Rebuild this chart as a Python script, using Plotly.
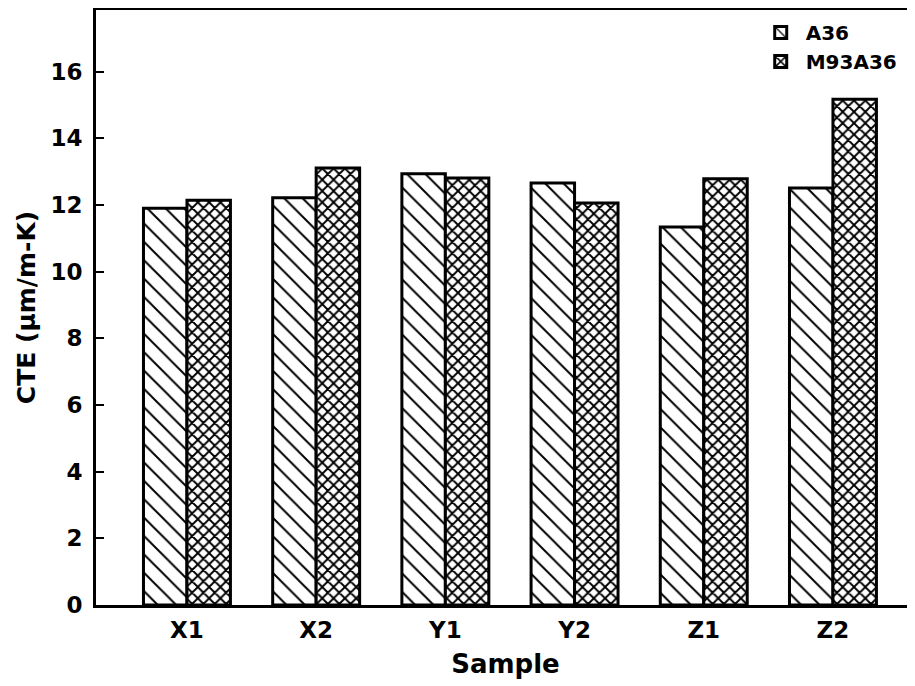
import plotly.graph_objects as go

categories = ["X1", "X2", "Y1", "Y2", "Z1", "Z2"]
a36_values = [11.90, 12.22, 12.94, 12.66, 11.34, 12.51]
m93a36_values = [12.14, 13.11, 12.81, 12.06, 12.79, 15.17]
y_tick_values = [0, 2, 4, 6, 8, 10, 12, 14, 16]

FONT = "DejaVu Sans"

fig = go.Figure()
fig.add_trace(go.Bar(
    x=categories, y=a36_values, name="A36",
    marker=dict(color="white", line=dict(color="black", width=3),
                pattern=dict(shape="\\", fgcolor="black", bgcolor="white",
                             size=13, solidity=0.15, fillmode="replace")),
))
fig.add_trace(go.Bar(
    x=categories, y=m93a36_values, name="M93A36",
    marker=dict(color="white", line=dict(color="black", width=3),
                pattern=dict(shape="x", fgcolor="black", bgcolor="white",
                             size=8, solidity=0.42, fillmode="replace")),
))

fig.update_layout(
    width=907, height=678,
    margin=dict(l=88, r=0, t=2, b=81, autoexpand=False),
    paper_bgcolor="white", plot_bgcolor="white",
    barmode="group", bargap=0.327, bargroupgap=0,
    font=dict(family=FONT, size=22, color="black", weight="bold"),
    legend=dict(x=0.985, xanchor="right", y=0.995, yanchor="top",
                font=dict(family=FONT, size=20, color="black", weight="bold"),
                bgcolor="rgba(0,0,0,0)", itemwidth=40, tracegroupgap=0),
    showlegend=True,
)
fig.update_xaxes(
    range=[-0.704, 5.635],
    showline=True, linecolor="black", linewidth=3, mirror=True,
    ticks="", showgrid=False, zeroline=False,
    tickfont=dict(family=FONT, size=23, color="black", weight="bold"),
    ticklabelstandoff=2,
    title=dict(text="Sample", standoff=14,
               font=dict(family=FONT, size=26, color="black", weight="bold")),
    automargin=False,
)
fig.update_yaxes(
    range=[0, 17.85],
    tickvals=y_tick_values,
    showline=True, linecolor="black", linewidth=3, mirror=False,
    ticks="inside", ticklen=8, tickwidth=2, tickcolor="black",
    showgrid=False, zeroline=False,
    tickfont=dict(family=FONT, size=23, color="black", weight="bold"),
    ticklabelstandoff=6,
    title=dict(text="CTE (µm/m-K)", standoff=8,
               font=dict(family=FONT, size=25, color="black", weight="bold")),
    automargin=False,
)

fig.write_html("out.html")
